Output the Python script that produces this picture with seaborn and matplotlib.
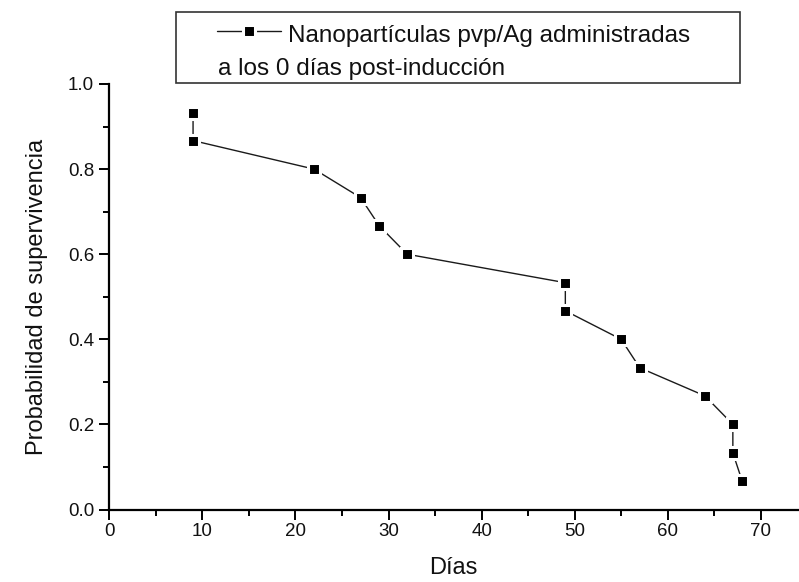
import matplotlib
matplotlib.use("Agg")
import matplotlib.pyplot as plt
from matplotlib.lines import Line2D
from matplotlib.patches import Rectangle
from matplotlib.ticker import MultipleLocator
import pandas as pd
import seaborn as sns

# Survival curve data
dias = [9, 9, 22, 27, 29, 32, 49, 49, 55, 57, 64, 67, 67, 68]
prob = [0.933, 0.867, 0.800, 0.733, 0.667, 0.600, 0.533, 0.467,
        0.400, 0.333, 0.267, 0.200, 0.133, 0.067]
serie = "Nanopartículas pvp/Ag administradas"
serie_2 = "a los 0 días post-inducción"
x_ticks = [0, 10, 20, 30, 40, 50, 60, 70]
y_ticks = [0.0, 0.2, 0.4, 0.6, 0.8, 1.0]

sns.set_style("ticks")
plt.rcParams["font.family"] = ["Liberation Sans", "DejaVu Sans"]

W, H = 799, 582
fig = plt.figure(figsize=(W / 100, H / 100), dpi=100)
ax = fig.add_axes([109.3 / W, 1 - 509.5 / H, (798 - 109.3) / W, (509.5 - 84) / H])

df = pd.DataFrame({"dias": dias, "prob": prob})
line_style = dict(color="#1a1a1a", linewidth=1.0, marker="s", markersize=8.4,
                  markerfacecolor="black", markeredgecolor="white",
                  markeredgewidth=2.2)
sns.lineplot(data=df, x="dias", y="prob", sort=False, estimator=None,
             legend=False, ax=ax, **line_style)

ax.set_xlim(0, 74)
ax.set_ylim(0, 1.0)
ax.set_xticks(x_ticks)
ax.set_yticks(y_ticks)
ax.set_xticklabels([str(t) for t in x_ticks])
ax.set_yticklabels([f"{t:.1f}" for t in y_ticks])
ax.xaxis.set_minor_locator(MultipleLocator(5))
ax.yaxis.set_minor_locator(MultipleLocator(0.1))

for side in ("top", "right"):
    ax.spines[side].set_visible(False)
for side in ("left", "bottom"):
    ax.spines[side].set_linewidth(1.6)
    ax.spines[side].set_color("black")

ax.tick_params(which="major", direction="out", length=7, width=1.4,
               color="black", labelsize=13.5, labelcolor="#111111")
ax.tick_params(axis="y", which="major", pad=4)
ax.tick_params(axis="x", which="major", pad=3)
ax.tick_params(which="minor", direction="out", length=4.5, width=1.4, color="black")

ax.set_xlabel("Días", fontsize=17, labelpad=12, color="#111111")
ax.set_ylabel("Probabilidad de supervivencia", fontsize=17, labelpad=14, color="#111111")

# Legend box with a two-line label
fig.patches.append(Rectangle((176 / W, 1 - 83 / H), 564 / W, 71 / H,
                             transform=fig.transFigure, fill=False,
                             edgecolor="#333333", linewidth=1.2))
handle = Line2D([217 / W, 249 / W, 281 / W], [1 - 30.7 / H] * 3,
                transform=fig.transFigure, markevery=[1], **line_style)
fig.add_artist(handle)
fig.text(288 / W, 1 - 42 / H, serie, fontsize=17.5, va="baseline", ha="left",
         color="#111111")
fig.text(218 / W, 1 - 75 / H, serie_2, fontsize=17.5, va="baseline", ha="left",
         color="#111111")

fig.savefig("out.png", dpi=100)
